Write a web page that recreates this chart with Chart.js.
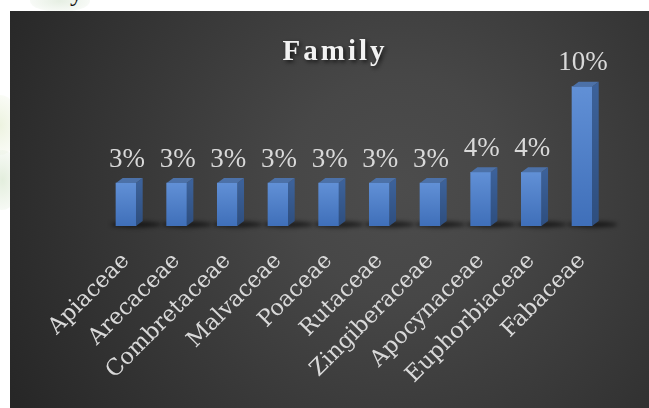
<!DOCTYPE html>
<html>
<head>
<meta charset="utf-8">
<script src="https://cdn.jsdelivr.net/npm/chart.js@4.4.0/dist/chart.umd.min.js"></script>
<style>
html,body{margin:0;padding:0;background:#fff;width:649px;height:408px;overflow:hidden;position:relative;}
#topclip{position:absolute;left:0;top:0;width:649px;height:11px;overflow:hidden;}
#ych{position:absolute;left:70px;top:-22px;font:26px "Liberation Serif";color:#111;}
#wm1{position:absolute;left:-20px;top:95px;width:40px;height:60px;border-radius:50%;background:radial-gradient(#edf3e0,rgba(255,255,255,0));}
#wm2{position:absolute;left:-15px;top:150px;width:35px;height:60px;border-radius:50%;background:radial-gradient(#e3eedd,rgba(255,255,255,0));}
#wm3{position:absolute;left:30px;top:-10px;width:60px;height:22px;border-radius:50%;background:radial-gradient(#e6efe3,rgba(255,255,255,0));}
#wrap{position:absolute;left:10px;top:11px;width:639px;height:397px;}
</style>
</head>
<body>
<div id="wm1"></div><div id="wm2"></div><div id="wm3"></div>
<div id="topclip"><div id="ych">y</div></div>
<div id="wrap"><canvas id="c" width="639" height="397"></canvas></div>
<script>
const categories = ['Apiaceae','Arecaceae','Combretaceae','Malvaceae','Poaceae','Rutaceae','Zingiberaceae','Apocynaceae','Euphorbiaceae','Fabaceae'];
const values = [3.08,3.08,3.08,3.08,3.08,3.08,3.08,3.85,3.85,10.0];
const valueLabels = ['3%','3%','3%','3%','3%','3%','3%','4%','4%','10%'];
const chartTitle = 'Family';

const DX = 6.7, DY = 5;

const decoPlugin = {
  id: 'deco',
  beforeDraw(chart) {
    const ctx = chart.ctx, w = chart.width, h = chart.height;
    ctx.save();
    const g = ctx.createRadialGradient(390, 175, 0, 390, 175, 440);
    g.addColorStop(0, '#4c4c4c');
    g.addColorStop(0.25, '#474747');
    g.addColorStop(1, '#272727');
    ctx.fillStyle = g;
    ctx.fillRect(0, 0, w, h);
    ctx.restore();
  },
  beforeDatasetsDraw(chart) {
    const ctx = chart.ctx;
    const meta = chart.getDatasetMeta(0);
    ctx.save();
    ctx.filter = 'blur(2px)';
    meta.data.forEach(bar => {
      const left = bar.x - bar.width / 2;
      const base = bar.base;
      ctx.fillStyle = 'rgba(0,0,0,0.6)';
      ctx.beginPath();
      ctx.ellipse(left + bar.width / 2 + 10, base - 1.5, bar.width / 2 + 15, 3, 0, 0, Math.PI * 2);
      ctx.fill();
    });
    ctx.restore();
  },
  afterDatasetsDraw(chart) {
    const ctx = chart.ctx;
    const meta = chart.getDatasetMeta(0);
    ctx.save();
    meta.data.forEach((bar, i) => {
      const left = bar.x - bar.width / 2;
      const right = bar.x + bar.width / 2;
      const top = bar.y, base = bar.base;
      const sg = ctx.createLinearGradient(0, top, 0, base);
      sg.addColorStop(0, '#3c6199');
      sg.addColorStop(1, '#2e4e7e');
      ctx.fillStyle = sg;
      ctx.beginPath();
      ctx.moveTo(right, top);
      ctx.lineTo(right + DX, top - DY);
      ctx.lineTo(right + DX, base - DY);
      ctx.lineTo(right, base);
      ctx.closePath();
      ctx.fill();
      ctx.fillStyle = '#4c71a8';
      ctx.beginPath();
      ctx.moveTo(left, top);
      ctx.lineTo(left + DX, top - DY);
      ctx.lineTo(right + DX, top - DY);
      ctx.lineTo(right, top);
      ctx.closePath();
      ctx.fill();
      ctx.fillStyle = '#d9d9d9';
      ctx.font = '27px "Liberation Serif"';
      ctx.textAlign = 'center';
      ctx.textBaseline = 'alphabetic';
      ctx.fillText(valueLabels[i], bar.x + 1, top - 16.5);
    });
    ctx.font = 'bold 29px "Liberation Serif"';
    if ('letterSpacing' in ctx) ctx.letterSpacing = '3px';
    ctx.textAlign = 'center';
    ctx.textBaseline = 'alphabetic';
    ctx.shadowColor = 'rgba(0,0,0,0.7)';
    ctx.shadowBlur = 4;
    ctx.shadowOffsetX = 2;
    ctx.shadowOffsetY = 2;
    ctx.fillStyle = '#f2f2f2';
    ctx.fillText(chartTitle, 325, 48.5);
    ctx.restore();
  }
};

const ctx = document.getElementById('c').getContext('2d');
new Chart(ctx, {
  type: 'bar',
  data: {
    labels: categories,
    datasets: [{
      data: values,
      barThickness: 20,
      borderWidth: 0,
      backgroundColor: (c) => {
        const chart = c.chart;
        const ys = chart.scales && chart.scales.y;
        if (!ys || c.parsed === undefined || !chart.chartArea) return '#4f7fc8';
        const yTop = ys.getPixelForValue(c.parsed.y);
        const yBase = ys.getPixelForValue(0);
        const g = chart.ctx.createLinearGradient(0, yTop, 0, yBase);
        g.addColorStop(0, '#6190d6');
        g.addColorStop(1, '#3f6fb9');
        return g;
      }
    }]
  },
  options: {
    responsive: false,
    animation: false,
    layout: { padding: { left: 90.65, right: 41.65, top: 47.8, bottom: 0 } },
    plugins: { legend: { display: false }, title: { display: false }, tooltip: { enabled: false } },
    scales: {
      x: {
        grid: { display: false, drawTicks: false },
        border: { display: false },
        ticks: {
          color: '#d9d9d9',
          font: { family: 'DejaVu Serif', size: 22.5 },
          minRotation: 45, maxRotation: 45,
          autoSkip: false,
          padding: 22
        },
        afterFit: (s) => { s.height = 182; }
      },
      y: { display: false, min: 0, max: 12 }
    }
  },
  plugins: [decoPlugin]
});
</script>
</body>
</html>
